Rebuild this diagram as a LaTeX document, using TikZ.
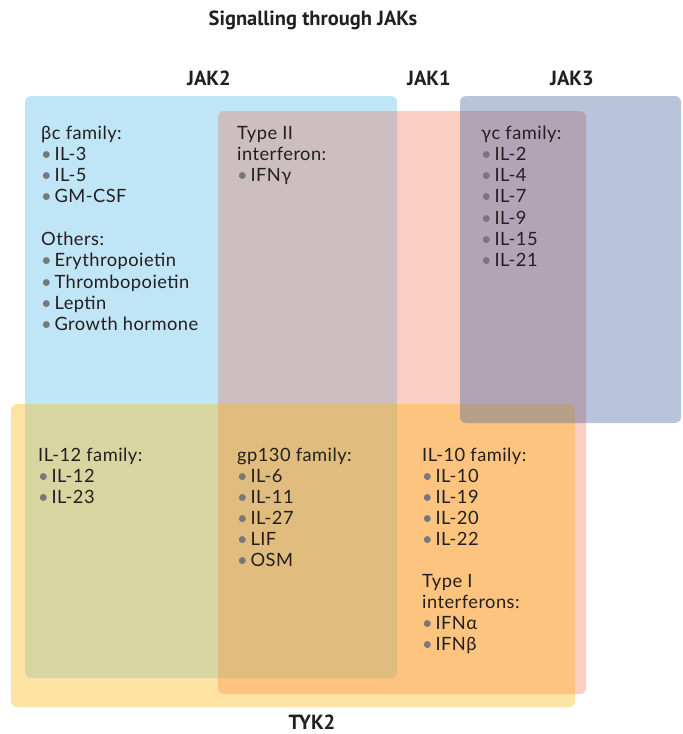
\documentclass[tikz,border=0pt]{standalone}
\usepackage{fontspec}
\setmainfont{Lato}[LetterSpace=2.5]
\newfontfamily\headfont{PT Sans}
\definecolor{cB}{RGB}{191,229,246}
\definecolor{cP}{RGB}{251,206,196}
\definecolor{cJ}{RGB}{184,196,220}
\definecolor{cY}{RGB}{253,227,162}
\definecolor{cBP}{RGB}{205,191,193}
\definecolor{cPJ}{RGB}{179,164,181}
\definecolor{cBY}{RGB}{215,214,161}
\definecolor{cBPY}{RGB}{224,188,126}
\definecolor{cPY}{RGB}{252,196,127}
\definecolor{cPJY}{RGB}{181,159,136}
\definecolor{txtc}{RGB}{35,31,32}
\definecolor{dotc}{RGB}{120,120,122}
\newcommand{\bi}{{\color{dotc}•}\hspace{0.15em}}
\begin{document}
\begin{tikzpicture}[x=1pt,y=-1pt,
  rc/.style={rounded corners=6pt},
  lbl/.style={font=\fontsize{18.3}{20}\selectfont, inner sep=0pt, anchor=base west, text=txtc},
  head/.style={font=\headfont\bfseries\fontsize{20.5}{22}\selectfont, inner sep=0pt, anchor=base, text=txtc}]
\useasboundingbox (0,0) rectangle (683,734);
% base regions
\fill[cB,rc] (25,96) rectangle (397,678);
\fill[cP,rc] (218,111) rectangle (586,694);
\fill[cJ,rc] (460,96) rectangle (681,423);
\fill[cY,rc] (11,404) rectangle (575,707);
% pairwise overlaps
\begin{scope}\clip[rc] (25,96) rectangle (397,678); \fill[cBP,rc] (218,111) rectangle (586,694);\end{scope}
\begin{scope}\clip[rc] (25,96) rectangle (397,678); \fill[cBY,rc] (11,404) rectangle (575,707);\end{scope}
\begin{scope}\clip[rc] (218,111) rectangle (586,694); \fill[cPJ,rc] (460,96) rectangle (681,423);\end{scope}
\begin{scope}\clip[rc] (218,111) rectangle (586,694); \fill[cPY,rc] (11,404) rectangle (575,707);\end{scope}
% triple overlaps
\begin{scope}\clip[rc] (25,96) rectangle (397,678); \clip[rc] (218,111) rectangle (586,694); \fill[cBPY,rc] (11,404) rectangle (575,707);\end{scope}
\begin{scope}\clip[rc] (460,96) rectangle (681,423); \fill[cPJY,rc] (11,404) rectangle (575,707);\end{scope}
% headings
\node[head] (title) at (313,25) {Signalling through JAKs};
\node[head] (jak2) at (209,85) {JAK2};
\node[head] (jak1) at (429,85) {JAK1};
\node[head] (jak3) at (572,85) {JAK3};
\node[head] (tyk2) at (312,729) {TYK2};
% text blocks
\foreach \t [count=\i from 0] in {βc family:, \bi IL-3, \bi IL-5, \bi GM-CSF}
  \node[lbl] (a\i) at (41,139+21.25*\i) {\t};
\foreach \t [count=\i from 0] in {Others:, \bi Erythropoietin, \bi Thrombopoietin, \bi Leptin, \bi Growth hormone}
  \node[lbl] (b\i) at (41,245.5+21.25*\i) {\t};
\foreach \t [count=\i from 0] in {Type II, interferon:, \bi IFNγ}
  \node[lbl] (c\i) at (237,139+21.25*\i) {\t};
\foreach \t [count=\i from 0] in {γc family:, \bi IL-2, \bi IL-4, \bi IL-7, \bi IL-9, \bi IL-15, \bi IL-21}
  \node[lbl] (d\i) at (481,139+21.25*\i) {\t};
\foreach \t [count=\i from 0] in {IL-12 family:, \bi IL-12, \bi IL-23}
  \node[lbl] (e\i) at (38,461+21.1*\i) {\t};
\foreach \t [count=\i from 0] in {gp130 family:, \bi IL-6, \bi IL-11, \bi IL-27, \bi LIF, \bi OSM}
  \node[lbl] (f\i) at (237,461+21.1*\i) {\t};
\foreach \t [count=\i from 0] in {IL-10 family:, \bi IL-10, \bi IL-19, \bi IL-20, \bi IL-22}
  \node[lbl] (g\i) at (422,461+21.1*\i) {\t};
\foreach \t [count=\i from 0] in {Type I, interferons:, \bi IFNα, \bi IFNβ}
  \node[lbl] (h\i) at (422,587.6+21.1*\i) {\t};
\end{tikzpicture}
\end{document}
